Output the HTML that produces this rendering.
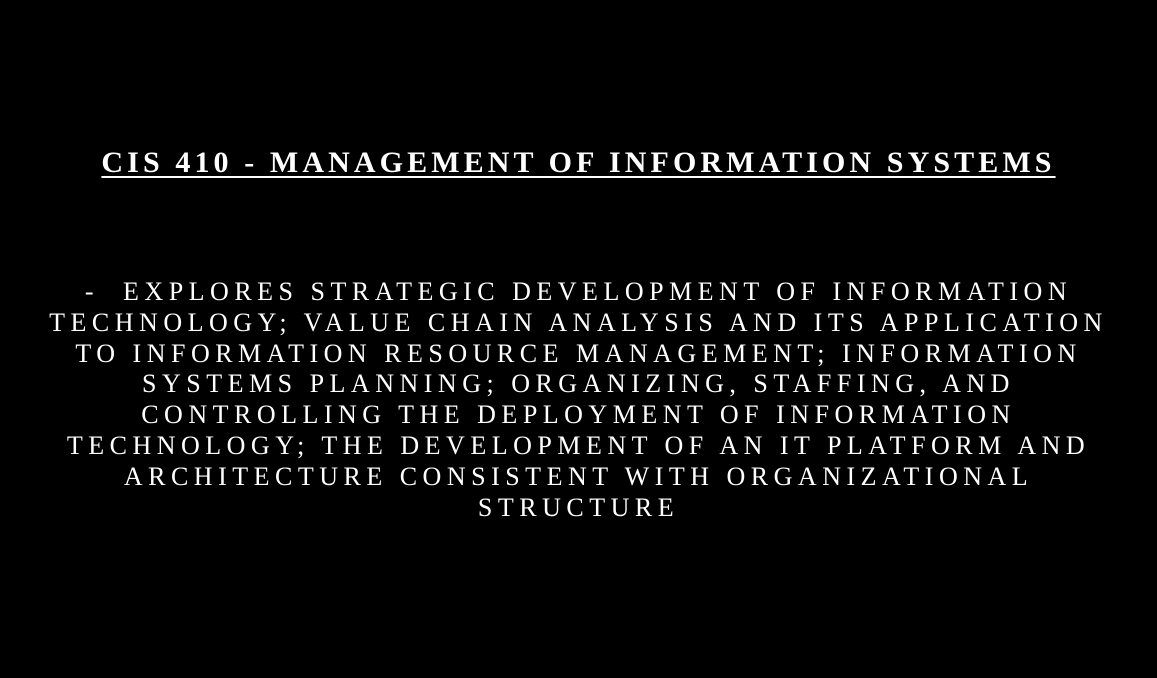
<!DOCTYPE html>
<html><head><meta charset="utf-8"><style>
html,body{margin:0;padding:0;background:#000;width:1157px;height:678px;overflow:hidden}
.t{position:absolute;left:0;width:1157px;top:146px;text-align:center;color:#fff;font-family:"Liberation Serif",serif;font-weight:bold;font-size:30px;letter-spacing:4.1px;}
.t span{text-decoration:underline;text-underline-offset:4px;text-decoration-thickness:2px}
.b{position:absolute;left:0;width:1157px;top:277px;text-align:center;color:#fff;font-family:"Liberation Serif",serif;font-size:26px;line-height:30.8px;letter-spacing:5.5px;white-space:nowrap}
</style></head><body>
<div class="t"><span>CIS 410 - MANAGEMENT OF INFORMATION SYSTEMS</span></div>
<div class="b">-&nbsp; EXPLORES STRATEGIC DEVELOPMENT OF INFORMATION<br>TECHNOLOGY; VALUE CHAIN ANALYSIS AND ITS APPLICATION<br>TO INFORMATION RESOURCE MANAGEMENT; INFORMATION<br>SYSTEMS PLANNING; ORGANIZING, STAFFING, AND<br>CONTROLLING THE DEPLOYMENT OF INFORMATION<br>TECHNOLOGY; THE DEVELOPMENT OF AN IT PLATFORM AND<br>ARCHITECTURE CONSISTENT WITH ORGANIZATIONAL<br>STRUCTURE</div>
</body></html>
